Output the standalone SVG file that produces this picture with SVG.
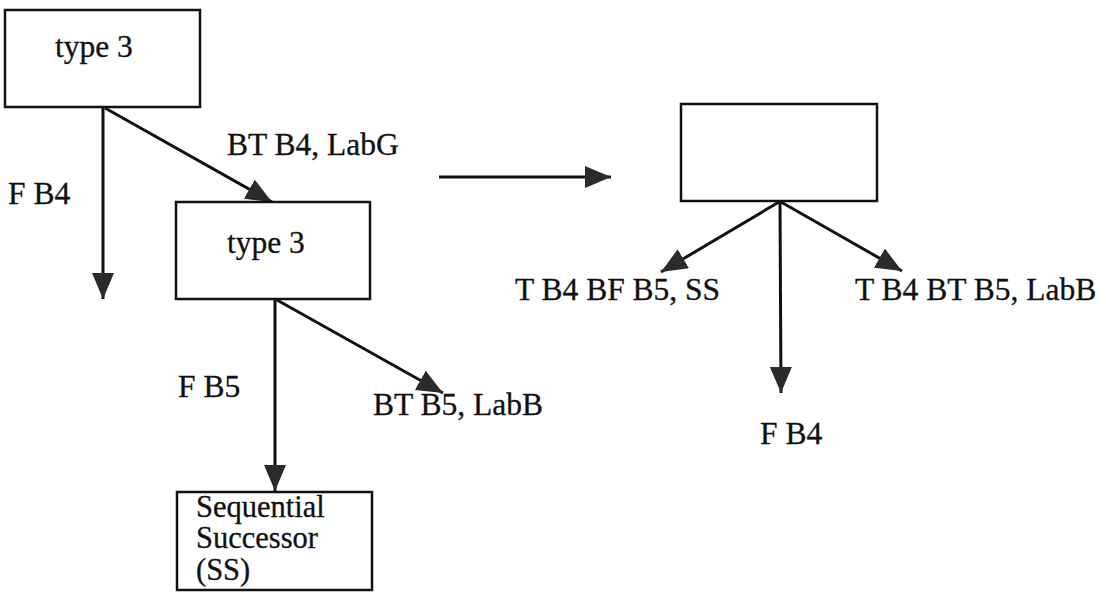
<svg xmlns="http://www.w3.org/2000/svg" width="1106" height="592" viewBox="0 0 1106 592">
<style>
.box{fill:#fff;stroke:#111;stroke-width:2.5}
.ln{stroke:#111;stroke-width:3;fill:none;marker-end:url(#ah)}
.t{font-family:'Liberation Serif','Times New Roman',serif;font-size:31.5px;fill:#111;stroke:#111;stroke-width:0.3}
.s{font-size:30.5px}
</style>
<defs>
<marker id="ah" markerUnits="userSpaceOnUse" markerWidth="28" markerHeight="24" refX="26" refY="11" orient="auto">
<path d="M0,0 L26,11 L0,22 Z" fill="#2b2b2b"/>
</marker>
</defs>
<rect width="1106" height="592" fill="#fff"/>
<g id="connectors">
<line class="ln" x1="103" y1="108" x2="103" y2="299"/>
<line class="ln" x1="105" y1="108" x2="272" y2="202"/>
<line class="ln" x1="275" y1="299" x2="275" y2="491"/>
<line class="ln" x1="277" y1="300" x2="443" y2="393"/>
<line class="ln" x1="439" y1="177" x2="611" y2="177"/>
<line class="ln" x1="779" y1="202" x2="661" y2="272"/>
<line class="ln" x1="780" y1="202" x2="781" y2="393"/>
<line class="ln" x1="781" y1="202" x2="902" y2="271"/>
</g>
<g id="n1"><rect class="box" x="5" y="10" width="195" height="97"/><text class="t" x="55" y="57">type 3</text></g>
<g id="n2"><rect class="box" x="176" y="202" width="194" height="97"/><text class="t" x="227" y="253">type 3</text></g>
<g id="n3"><rect class="box" x="177" y="492" width="195" height="98"/><text class="t s" x="196" y="517">Sequential</text><text class="t s" x="196" y="548">Successor</text><text class="t s" x="196" y="580">(SS)</text></g>
<g id="n4"><rect class="box" x="681" y="104" width="196" height="97"/></g>
<g id="labels">
<text class="t" x="8" y="204">F B4</text>
<text class="t" x="227" y="155">BT B4, LabG</text>
<text class="t" x="178" y="397">F B5</text>
<text class="t" x="373" y="415">BT B5, LabB</text>
<text class="t" x="515" y="300">T B4 BF B5, SS</text>
<text class="t" x="855" y="300">T B4 BT B5, LabB</text>
<text class="t" x="760" y="444">F B4</text>
</g>
</svg>
